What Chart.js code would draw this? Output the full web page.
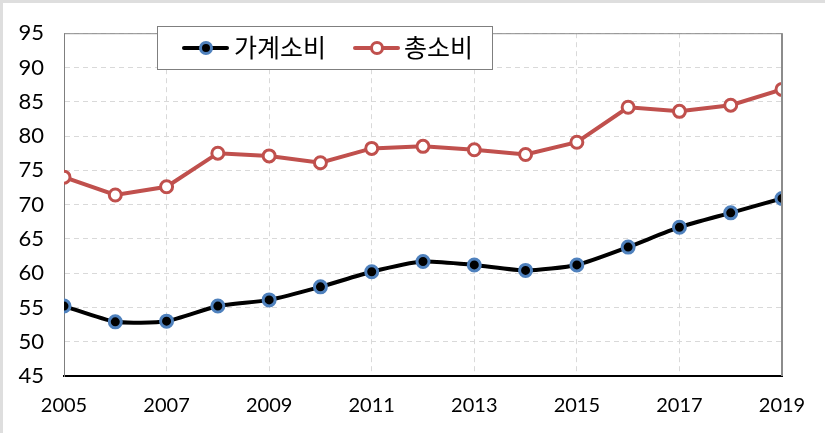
<!DOCTYPE html>
<html>
<head>
<meta charset="utf-8">
<script src="https://cdn.jsdelivr.net/npm/chart.js@4.4.1/dist/chart.umd.min.js"></script>
<style>
  html, body { margin: 0; padding: 0; background: #fff; }
  #wrap { position: relative; width: 825px; height: 433px; box-sizing: border-box;
          border-top: 3px solid #dedede; border-left: 3px solid #dedede; }
  #chart { position: absolute; left: -3px; top: -3px; }
  #legend { position: absolute; left: 154px; top: 23px; width: 334px; height: 42px;
            border: 1px solid #7f7f7f; background: #fff;
            font-family: "Noto Sans CJK KR", sans-serif; font-size: 25px; color: #000; }
  .item { position: absolute; top: 0; height: 42px; line-height: 42px; }
  .sym { position: absolute; top: 19px; width: 47px; height: 4px; border-radius: 2px; }
  .dot { position: absolute; top: -5px; left: 17px; width: 8px; height: 8px; border-radius: 50%;
         border-width: 3px; border-style: solid; }
  .txt { position: absolute; top: -2px; white-space: nowrap; }
</style>
</head>
<body>
<div id="wrap">
  <canvas id="chart" width="825" height="433"></canvas>
  <div id="legend">
    <div class="item" style="left:24px">
      <div class="sym" style="background:#000"><div class="dot" style="background:#000;border-color:#4f81bd"></div></div>
      <div class="txt" style="left:52px">가계소비</div>
    </div>
    <div class="item" style="left:195px">
      <div class="sym" style="background:#c0504d"><div class="dot" style="background:#fff;border-color:#c0504d"></div></div>
      <div class="txt" style="left:51px">총소비</div>
    </div>
  </div>
</div>
<script>
// Data
const years = [2005, 2006, 2007, 2008, 2009, 2010, 2011, 2012, 2013, 2014, 2015, 2016, 2017, 2018, 2019];
const household = [55.2, 52.9, 53.0, 55.2, 56.1, 58.0, 60.2, 61.7, 61.2, 60.4, 61.2, 63.8, 66.7, 68.8, 70.9];
const total = [74.0, 71.4, 72.6, 77.5, 77.1, 76.1, 78.2, 78.5, 78.0, 77.3, 79.1, 84.2, 83.6, 84.5, 86.8];
const yTicks = [45, 50, 55, 60, 65, 70, 75, 80, 85, 90, 95];

const toPoints = vals => vals.map((v, i) => ({ x: years[i], y: v }));

// plot frame: gray top/right, drawn after the grid
const framePlugin = {
  id: 'frame',
  afterDatasetsDraw(chart) {
    const { ctx, chartArea: a } = chart;
    ctx.save();
    ctx.strokeStyle = '#8c8c8c';
    ctx.lineWidth = 1;
    ctx.beginPath();
    ctx.moveTo(a.left, a.top + 0.5);
    ctx.lineTo(a.right, a.top + 0.5);
    ctx.stroke();
    ctx.lineWidth = 2;
    ctx.beginPath();
    ctx.moveTo(a.right, a.top);
    ctx.lineTo(a.right, a.bottom);
    ctx.stroke();
    ctx.restore();
  }
};

const ctx = document.getElementById('chart').getContext('2d');
const chart = new Chart(ctx, {
  type: 'line',
  data: {
    datasets: [{
      label: '가계소비',
      data: toPoints(household),
      borderColor: '#000',
      borderWidth: 4,
      tension: 0.2,
      pointRadius: 6,
      pointBorderWidth: 3,
      pointBackgroundColor: '#000',
      pointBorderColor: '#4f81bd',
    }, {
      label: '총소비',
      data: toPoints(total),
      borderColor: '#c0504d',
      borderWidth: 4,
      tension: 0,
      pointRadius: 6,
      pointBorderWidth: 3,
      pointBackgroundColor: '#fff',
      pointBorderColor: '#c0504d',
    }]
  },
  options: {
    responsive: false,
    animation: false,
    layout: { padding: { left: 0, right: 43, top: 28, bottom: 0 } },
    plugins: {
      legend: { display: false },
      tooltip: { enabled: false },
    },
    scales: {
      x: {
        type: 'linear',
        min: 2005,
        max: 2019,
        afterFit: s => { s.height = 57; },
        ticks: {
          stepSize: 2,
          padding: 18,
          color: '#000',
          font: { family: 'Lato, sans-serif', size: 20 },
          callback: v => String(v),
        },
        grid: { color: '#d9d9d9', lineWidth: 1, drawTicks: false },
        border: { color: '#000', width: 2, dash: [5, 4] },
      },
      y: {
        min: 45,
        max: 95,
        afterFit: s => { s.width = 64; },
        afterBuildTicks: s => { s.ticks = yTicks.map(v => ({ value: v })); },
        ticks: {
          padding: 20,
          color: '#000',
          font: { family: 'Lato, sans-serif', size: 22 },
        },
        grid: { color: '#d9d9d9', lineWidth: 1, drawTicks: false },
        border: { color: '#7f7f7f', width: 1, dash: [5, 4] },
      }
    }
  },
  plugins: [framePlugin]
});
</script>
</body>
</html>
